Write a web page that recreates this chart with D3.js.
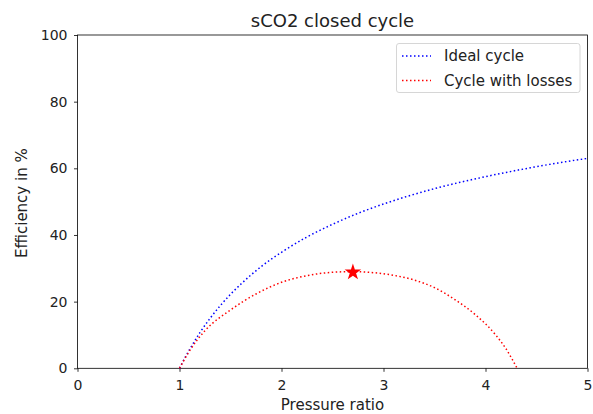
<!DOCTYPE html>
<html>
<head>
<meta charset="utf-8">
<script src="https://cdn.jsdelivr.net/npm/d3@7"></script>
<style>
  body { margin: 0; background: #fff; }
  svg { display: block; font-family: "DejaVu Sans", sans-serif; }
</style>
</head>
<body>
<svg id="chart" width="593" height="414"></svg>
<script>
// ---- data ----
const idealRatio = [1, 1.05, 1.1, 1.2, 1.3, 1.4, 1.5, 1.6, 1.8, 2.0, 2.25, 2.5, 2.75, 3.0, 3.5, 4.0, 4.5, 5.0];
const idealEff   = [0, 3.0, 5.7, 10.7, 15.0, 18.8, 22.2, 25.2, 30.5, 34.8, 39.4, 43.2, 46.5, 49.3, 53.9, 57.5, 60.5, 63.0];

const lossRatio = [1, 1.1, 1.25, 1.5, 1.75, 2.0, 2.25, 2.5, 2.7, 2.9, 3.1, 3.3, 3.5, 3.7, 3.9, 4.1, 4.2, 4.31];
const lossEff   = [0, 5.3, 11.3, 17.5, 22.3, 25.8, 27.8, 28.8, 29.0, 28.7, 27.9, 26.5, 24.2, 20.6, 16.1, 10.0, 5.9, 0];

const optimumRatio = [2.7];
const optimumEff = [28.8];

const xTicks = [0, 1, 2, 3, 4, 5];
const yTicks = [0, 20, 40, 60, 80, 100];
const seriesNames = ["Ideal cycle", "Cycle with losses"];
const seriesColors = ["#0000ff", "#ff0000"];
const titleText = "sCO2 closed cycle";
const xLabel = "Pressure ratio";
const yLabel = "Efficiency in %";

// ---- layout ----
const svg = d3.select("#chart");
const mLeft = 77.5, mRight = 587.5, mTop = 35, mBottom = 368.3;

const x = d3.scaleLinear().domain([0, 5]).range([mLeft, mRight]);
const y = d3.scaleLinear().domain([0, 100]).range([mBottom, mTop]);

const g = svg.append("g");

// axes
const xAxis = d3.axisBottom(x).tickValues(xTicks).tickSize(3.5).tickPadding(8.5).tickFormat(d3.format("d"));
const yAxis = d3.axisLeft(y).tickValues(yTicks).tickSize(3.5).tickPadding(6.5).tickFormat(d3.format("d"));

const gx = g.append("g").attr("transform", `translate(0,${mBottom})`).call(xAxis);
const gy = g.append("g").attr("transform", `translate(${mLeft},0)`).call(yAxis);
[gx, gy].forEach(a => {
  a.select(".domain").remove();
  a.selectAll("line").attr("stroke", "#000").attr("stroke-width", 0.8);
  a.selectAll("text").attr("fill", "#222").style("font-size", "14px").style("font-family", "DejaVu Sans");
});

// frame
g.append("rect")
  .attr("x", mLeft).attr("y", mTop)
  .attr("width", mRight - mLeft).attr("height", mBottom - mTop)
  .attr("fill", "none").attr("stroke", "#000").attr("stroke-width", 0.8);

// lines
const line = d3.line().x(d => x(d[0])).y(d => y(d[1])).curve(d3.curveMonotoneX);
const seriesData = [
  d3.zip(idealRatio, idealEff),
  d3.zip(lossRatio, lossEff)
];
seriesData.forEach((data, i) => {
  g.append("path")
    .datum(data)
    .attr("d", line)
    .attr("fill", "none")
    .attr("stroke", seriesColors[i])
    .attr("stroke-width", 1.5)
    .attr("stroke-dasharray", "1.5,2.5");
});

// optimum star
g.selectAll(".star")
  .data(d3.zip(optimumRatio, optimumEff))
  .enter().append("path")
  .attr("d", d3.symbol().type(d3.symbolStar).size(85))
  .attr("transform", d => `translate(${x(d[0])},${y(d[1])})`)
  .attr("fill", "#ff0000");

// title & labels
svg.append("text")
  .attr("x", (mLeft + mRight) / 2).attr("y", 26.5)
  .attr("text-anchor", "middle")
  .style("font-size", "18px").attr("fill", "#222")
  .text(titleText);

svg.append("text")
  .attr("x", (mLeft + mRight) / 2).attr("y", 410)
  .attr("text-anchor", "middle")
  .style("font-size", "15px").attr("fill", "#222")
  .text(xLabel);

svg.append("text")
  .attr("transform", `translate(26.5,${(mTop + mBottom) / 2 + 1.5}) rotate(-90)`)
  .attr("text-anchor", "middle")
  .style("font-size", "15px").attr("fill", "#222")
  .text(yLabel);

// legend
const lg = svg.append("g");
lg.append("rect")
  .attr("x", 396.5).attr("y", 43.5)
  .attr("width", 183.5).attr("height", 49)
  .attr("rx", 2.5)
  .attr("fill", "#fff").attr("fill-opacity", 0.8)
  .attr("stroke", "#ccc").attr("stroke-width", 0.8);
seriesNames.forEach((name, i) => {
  const yy = 56 + i * 24.5;
  lg.append("line")
    .attr("x1", 402).attr("x2", 431)
    .attr("y1", yy).attr("y2", yy)
    .attr("stroke", seriesColors[i])
    .attr("stroke-width", 1.5)
    .attr("stroke-dasharray", "1.5,2.5");
  lg.append("text")
    .attr("x", 444).attr("y", yy + 5.3)
    .style("font-size", "15px").attr("fill", "#222")
    .text(name);
});
</script>
</body>
</html>
